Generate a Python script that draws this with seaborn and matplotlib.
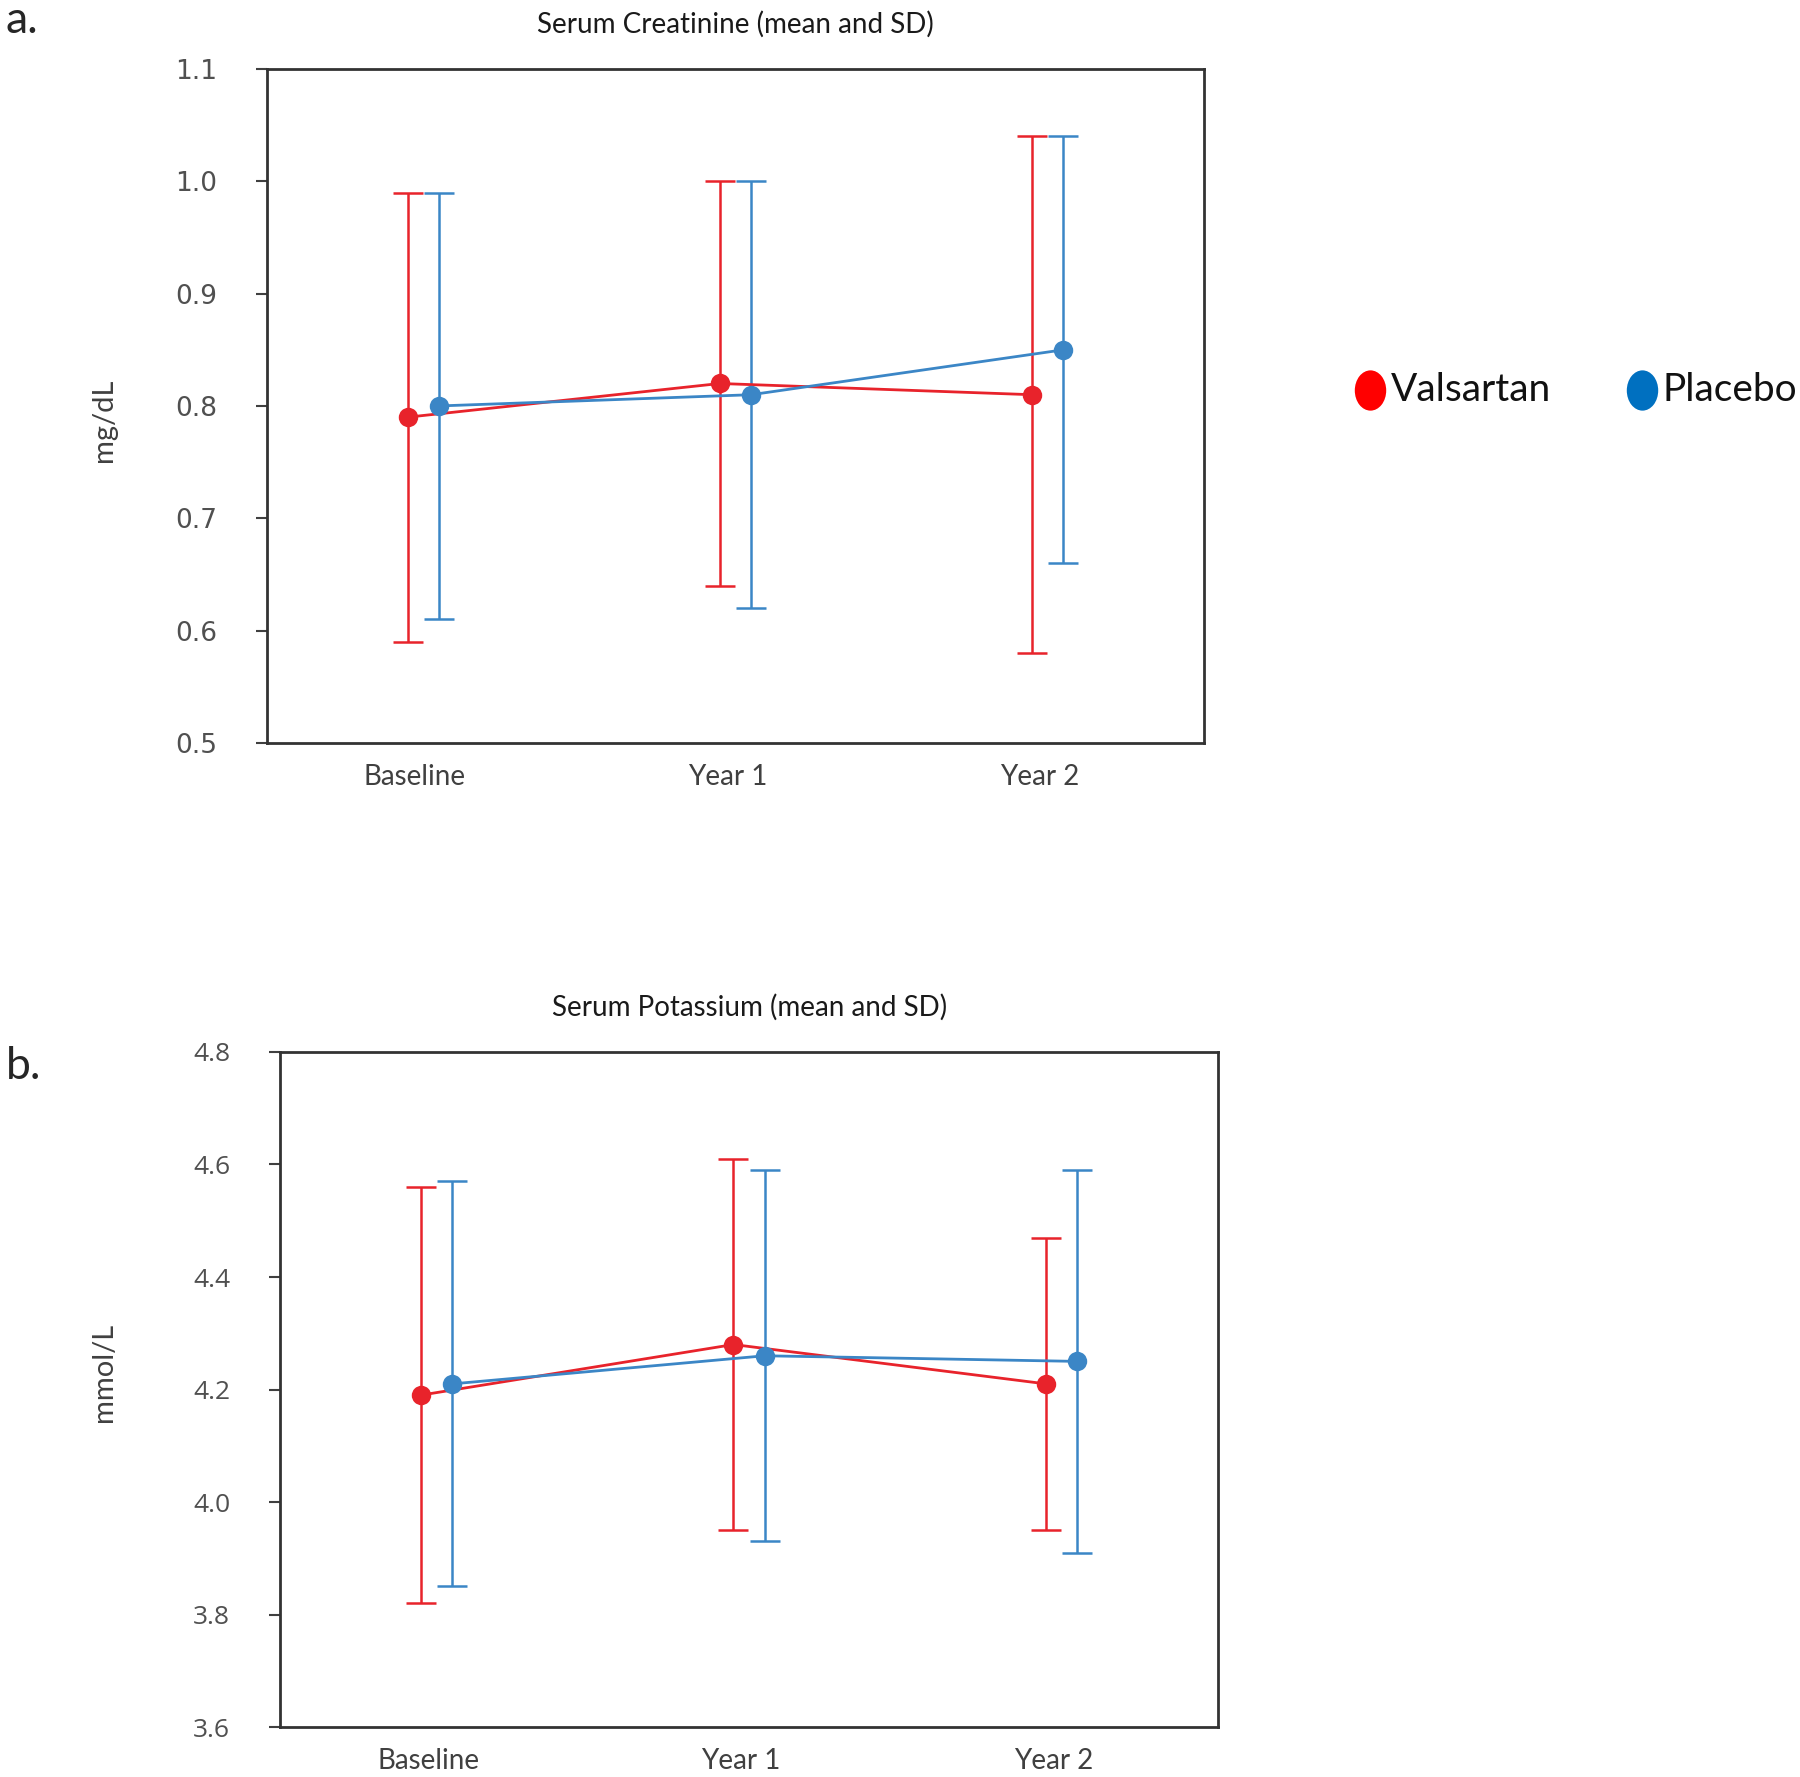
import numpy as np
import pandas as pd
import matplotlib
matplotlib.use("Agg")
import matplotlib.pyplot as plt
import matplotlib.transforms as mtransforms
from matplotlib.lines import Line2D
from matplotlib.path import Path
import seaborn as sns

# Données (moyenne et bornes +/- SD)
temps = ["Baseline", "Year 1", "Year 2"]
groupes = ["Valsartan", "Placebo"]

creat_val_moy = [0.79, 0.82, 0.81]
creat_val_haut = [0.99, 1.00, 1.04]
creat_val_bas = [0.59, 0.64, 0.58]
creat_pla_moy = [0.80, 0.81, 0.85]
creat_pla_haut = [0.99, 1.00, 1.04]
creat_pla_bas = [0.61, 0.62, 0.66]

pot_val_moy = [4.19, 4.28, 4.21]
pot_val_haut = [4.56, 4.61, 4.47]
pot_val_bas = [3.82, 3.95, 3.95]
pot_pla_moy = [4.21, 4.26, 4.25]
pot_pla_haut = [4.57, 4.59, 4.59]
pot_pla_bas = [3.85, 3.93, 3.91]

couleurs = {"Valsartan": "#E8232B", "Placebo": "#3B86C6"}
couleurs_leg = {"Valsartan": "#FF0000", "Placebo": "#0070C0"}
decalage = {"Valsartan": -0.05, "Placebo": 0.05}

sns.set_style("white")
plt.rcParams['font.family'] = ['Lato', 'DejaVu Sans']


def tableau(moy_v, haut_v, bas_v, moy_p, haut_p, bas_p):
    lignes = []
    for g, moy, haut, bas in [("Valsartan", moy_v, haut_v, bas_v), ("Placebo", moy_p, haut_p, bas_p)]:
        for i, t in enumerate(temps):
            lignes.append({"groupe": g, "temps": t, "x": i + decalage[g],
                           "moyenne": moy[i], "haut": haut[i], "bas": bas[i]})
    return pd.DataFrame(lignes)


def panneau(ax, df, titre, ylabel, ylim, yticks, tick_font, tick_size, label_xy):
    sns.lineplot(data=df, x="x", y="moyenne", hue="groupe", palette=couleurs,
                 marker="o", markersize=14, markeredgewidth=0, linewidth=2,
                 legend=False, ax=ax, zorder=3)
    for g in groupes:
        d = df[df["groupe"] == g]
        ax.errorbar(d["x"], d["moyenne"],
                    yerr=[d["moyenne"] - d["bas"], d["haut"] - d["moyenne"]],
                    fmt="none", ecolor=couleurs[g], elinewidth=1.8,
                    capsize=11, capthick=1.8, zorder=2)
    ax.set_xlim(-0.5, 2.5)
    ax.set_ylim(*ylim)
    ax.set_yticks(yticks)
    ax.set_yticklabels(["{:.1f}".format(v) for v in yticks], fontsize=tick_size,
                       color="#505050", family=tick_font)
    # les étiquettes sont un peu à gauche du centre des catégories
    ax.set_xticks(np.arange(len(temps)) - 0.026)
    ax.set_xticklabels(temps, fontsize=20, color="#404040")
    ax.tick_params(axis="y", direction="out", length=8, width=1.5, pad=28, left=True, color="#404040")
    ax.tick_params(axis="x", length=0, pad=15)
    for s in ax.spines.values():
        s.set_visible(True)
        s.set_color("#333333")
        s.set_linewidth(2)
    ax.set_xlabel("")
    ax.set_ylabel(ylabel, fontsize=21, color="#404040")
    ax.yaxis.set_label_coords(*label_xy)
    ax.set_title(titre, fontsize=20, color="#1a1a1a", pad=26)


fig = plt.figure(figsize=(18, 17.77), dpi=100)
ax1 = fig.add_axes([0.1483, 0.5819, 0.5206, 0.3793])
ax2 = fig.add_axes([0.1556, 0.0281, 0.5211, 0.3799])

df_creat = tableau(creat_val_moy, creat_val_haut, creat_val_bas, creat_pla_moy, creat_pla_haut, creat_pla_bas)
df_pot = tableau(pot_val_moy, pot_val_haut, pot_val_bas, pot_pla_moy, pot_pla_haut, pot_pla_bas)

panneau(ax1, df_creat, "Serum Creatinine (mean and SD)", "mg/dL", (0.5, 1.1),
        np.round(np.arange(0.5, 1.11, 0.1), 1), "DejaVu Sans", 19, (-0.160, 0.478))
panneau(ax2, df_pot, "Serum Potassium (mean and SD)", "mmol/L", (3.6, 4.8),
        np.round(np.arange(3.6, 4.81, 0.2), 1), "Open Sans", 19, (-0.174, 0.526))

fig.text(0.003, 1 - 33 / 1777, "a.", fontsize=32, va="baseline", ha="left")
fig.text(0.003, 1 - 1079 / 1777, "b.", fontsize=32, va="baseline", ha="left")

# légende : marqueurs en ellipse, plus hauts que larges
ellipse = Path.unit_circle().transformed(mtransforms.Affine2D().scale(0.78, 1.0))
leg_y = 1 - 390 / 1777
for g, xm, xt in [("Valsartan", 1370, 1391), ("Placebo", 1642, 1663)]:
    fig.add_artist(Line2D([xm / 1800], [leg_y], transform=fig.transFigure, marker=ellipse,
                          linestyle="none", markersize=29, markerfacecolor=couleurs_leg[g],
                          markeredgewidth=0))
    fig.text(xt / 1800, leg_y, g, fontsize=28, va="center", ha="left", color="#111111")

plt.savefig("out.png", dpi=100)
plt.close()
